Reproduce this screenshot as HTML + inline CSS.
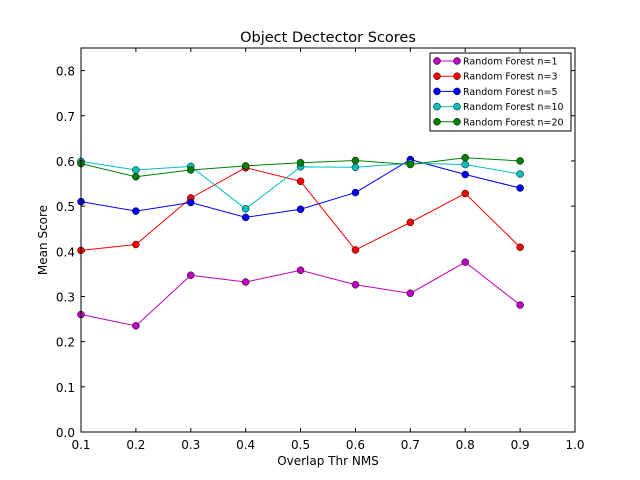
<!DOCTYPE html>
<html><head><meta charset="utf-8"><style>
body{margin:0;background:#fff;}
svg{display:block;font-family:"DejaVu Sans","Liberation Sans",sans-serif;}
</style></head><body>
<svg id="chart" width="640" height="480" viewBox="0 0 640 480">
<rect width="640" height="480" fill="#fff"/>
<text x="328" y="42" font-size="14.5" text-anchor="middle">Object Dectector Scores</text>
<text x="328" y="465" font-size="12" text-anchor="middle">Overlap Thr NMS</text>
<text x="47" y="240" font-size="12" text-anchor="middle" transform="rotate(-90 47 240)">Mean Score</text>
<g id="axes"></g>
<g id="series"></g>
<rect x="81" y="48" width="494" height="384" fill="none" stroke="#000" stroke-width="1"/>
<g id="legend"></g>
</svg>
<script>
const xValues=[0.1,0.2,0.3,0.4,0.5,0.6,0.7,0.8,0.9];
const seriesNames=["Random Forest n=1","Random Forest n=3","Random Forest n=5","Random Forest n=10","Random Forest n=20"];
const seriesColors=["#bf00bf","#ff0000","#0000ff","#00bfbf","#008000"];
const s1=[0.26,0.235,0.347,0.332,0.358,0.326,0.307,0.376,0.281];
const s3=[0.402,0.415,0.518,0.585,0.555,0.403,0.464,0.528,0.409];
const s5=[0.51,0.489,0.508,0.475,0.493,0.53,0.603,0.57,0.54];
const s10=[0.599,0.58,0.588,0.494,0.587,0.586,0.595,0.592,0.571];
const s20=[0.594,0.565,0.58,0.589,0.596,0.601,0.592,0.607,0.6];
const xTicks=["0.1","0.2","0.3","0.4","0.5","0.6","0.7","0.8","0.9","1.0"];
const yTicks=["0.0","0.1","0.2","0.3","0.4","0.5","0.6","0.7","0.8"];
const NS="http://www.w3.org/2000/svg";
const L=81,R=575,T=48,B=432;
const xs=v=>L+(v-0.1)/0.9*(R-L);
const ys=v=>B-v/0.85*(B-T);
function mk(t,a,p){const e=document.createElementNS(NS,t);for(const k in a)e.setAttribute(k,a[k]);p.appendChild(e);return e;}
const ax=document.getElementById('axes');
xTicks.forEach(t=>{const x=xs(+t);
 const a=mk('line',{x1:x,x2:x,y1:B,y2:B-4,stroke:'#000'},ax);
 const b=mk('line',{x1:x,x2:x,y1:T,y2:T+4,stroke:'#000'},ax);
 const l=mk('text',{x:x,y:B+17,'font-size':12,'text-anchor':'middle'},ax);l.textContent=t;});
yTicks.forEach(t=>{const y=ys(+t);
 const a=mk('line',{x1:L,x2:L+4,y1:y,y2:y,stroke:'#000'},ax);
 const b=mk('line',{x1:R,x2:R-4,y1:y,y2:y,stroke:'#000'},ax);
 const l=mk('text',{x:L-6,y:y+5,'font-size':12,'text-anchor':'end'},ax);l.textContent=t;});
const sg=document.getElementById('series');
[s1,s3,s5,s10,s20].forEach((d,i)=>{const c=seriesColors[i];
 const g=mk('g',{},sg);
 const pl=mk('polyline',{points:d.map((v,j)=>xs(xValues[j])+','+ys(v)).join(' '),fill:'none',stroke:c,'stroke-width':1},g);
 
 d.forEach((v,j)=>{const p=mk('circle',{cx:xs(xValues[j]),cy:ys(v),r:3.5,fill:c,stroke:'#000','stroke-width':0.5},g);});});
const lg=document.getElementById('legend');
mk('rect',{x:430,y:53,width:141,height:78,fill:'#fff',stroke:'#000'},lg);
seriesNames.forEach((n,i)=>{const y=61+i*15.2,c=seriesColors[i];
 const e=mk('g',{},lg);
 mk('line',{x1:437,x2:457,y1:y,y2:y,stroke:c},e);
 mk('circle',{cx:437,cy:y,r:3.5,fill:c,stroke:'#000','stroke-width':0.5},e);
 mk('circle',{cx:457,cy:y,r:3.5,fill:c,stroke:'#000','stroke-width':0.5},e);
 const t=mk('text',{x:463,y:y+3.5,'font-size':9.5},e);t.textContent=n;});
</script>
</body></html>
